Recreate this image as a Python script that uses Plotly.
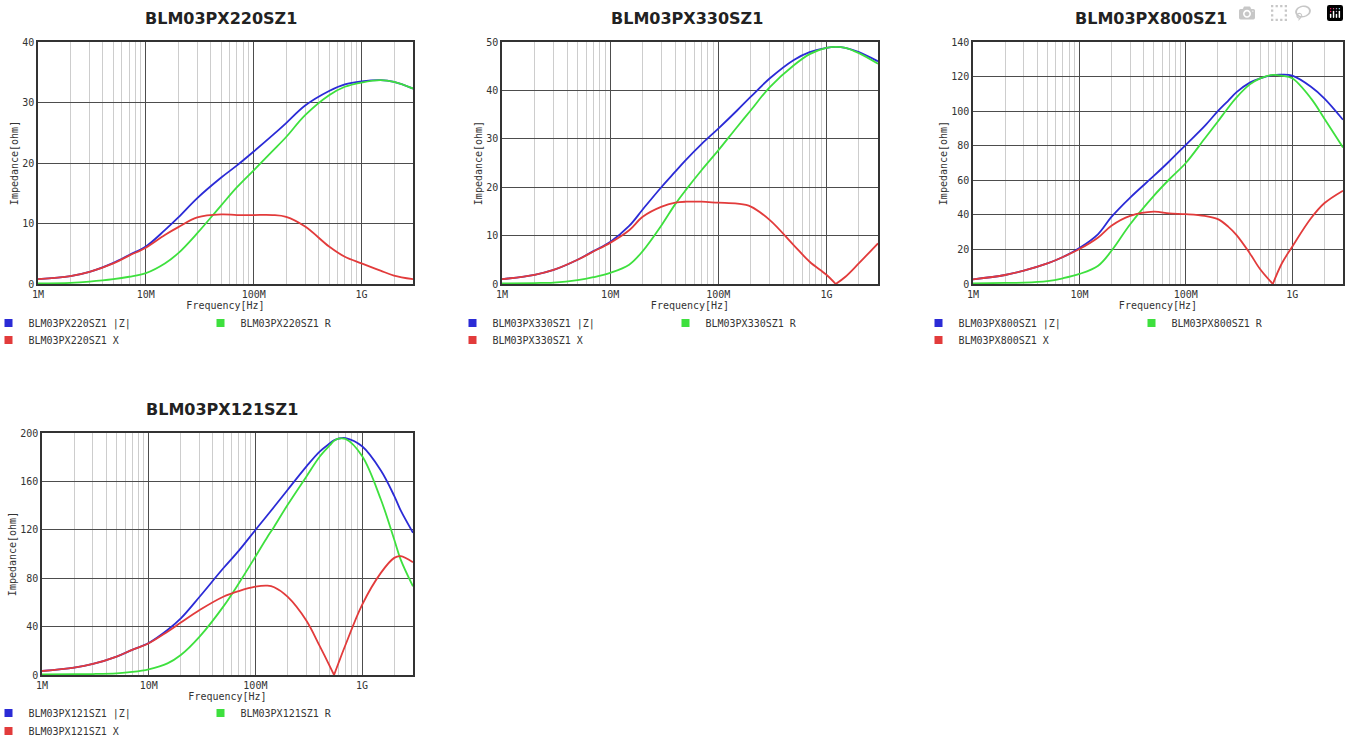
import numpy as np
import plotly.graph_objects as go

W, H = 1349, 737

# ---------------- data ----------------
part_names = ["BLM03PX220SZ1", "BLM03PX330SZ1", "BLM03PX800SZ1", "BLM03PX121SZ1"]

freq_220 = [1e6, 2e6, 3e6, 5e6, 7e6, 1e7, 1.5e7, 2e7, 3e7, 5e7, 7e7, 1e8, 1.5e8, 2e8, 3e8,
            5e8, 7e8, 1e9, 1.5e9, 2e9, 3e9]
z_220 = [0.8, 1.3, 2.0, 3.5, 4.8, 6.2, 8.9, 11.0, 14.2, 17.6, 19.6, 21.9, 24.6, 26.6, 29.5,
         31.9, 33.0, 33.5, 33.7, 33.4, 32.3]
r_220 = [0.1, 0.2, 0.4, 0.8, 1.2, 1.8, 3.4, 5.1, 8.4, 13.0, 16.0, 18.8, 22.0, 24.3, 27.9,
         31.2, 32.6, 33.3, 33.7, 33.4, 32.3]
x_220 = [0.8, 1.3, 2.0, 3.4, 4.7, 6.0, 8.1, 9.4, 11.0, 11.5, 11.4, 11.4, 11.4, 11.1, 9.5,
         6.2, 4.5, 3.4, 2.2, 1.4, 0.8]

freq_330 = [1e6, 2e6, 3e6, 5e6, 7e6, 1e7, 1.5e7, 2e7, 3e7, 4e7, 5e7, 7e7, 1e8, 1.5e8, 2e8,
            3e8, 5e8, 7e8, 1e9, 1.22e9, 1.5e9, 2e9, 3e9]
z_330 = [1.0, 1.9, 2.9, 5.0, 6.8, 8.7, 12.0, 15.4, 20.1, 23.2, 25.6, 28.9, 32.1, 35.9, 38.7,
         42.5, 46.3, 47.9, 48.8, 49.0, 48.8, 47.9, 46.0]
r_330 = [0.1, 0.2, 0.3, 0.8, 1.4, 2.3, 4.0, 6.8, 12.2, 16.5, 19.4, 23.5, 27.6, 32.5, 35.9,
         40.7, 45.2, 47.5, 48.8, 49.0, 48.8, 47.7, 45.5]
x_330 = [1.0, 1.9, 2.9, 5.0, 6.7, 8.5, 11.1, 13.9, 16.0, 16.8, 17.0, 17.0, 16.8, 16.6, 16.0,
         13.2, 8.0, 4.6, 1.9, 0.0, 1.5, 4.3, 8.4]

freq_800 = [1e6, 2e6, 3e6, 5e6, 7e6, 1e7, 1.5e7, 2e7, 3e7, 5e7, 7e7, 1e8, 1.5e8, 2e8, 2.5e8,
            3e8, 4e8, 5e8, 6.57e8, 8e8, 1e9, 1.5e9, 2e9, 3e9]
z_800 = [2.7, 5.2, 7.7, 11.9, 15.6, 20.8, 28.9, 38.8, 50.0, 62.5, 71.0, 80.5, 91.3, 100.0, 106.0,
         111.0, 116.5, 119.0, 120.9, 121.1, 120.5, 114.1, 107.4, 95.0]
r_800 = [0.4, 0.6, 0.8, 1.7, 3.3, 5.8, 10.6, 19.2, 34.6, 51.0, 60.6, 70.0, 84.0, 94.0, 102.0,
         108.0, 115.5, 119.0, 121.0, 120.5, 119.0, 107.4, 95.8, 79.0]
x_800 = [2.7, 5.2, 7.7, 11.9, 15.6, 20.2, 26.9, 33.7, 39.4, 41.9, 40.8, 40.4, 39.4, 37.5, 33.2,
         28.3, 17.7, 8.5, 0.0, 12.0, 21.6, 38.0, 46.7, 54.0]

freq_121 = [1e6, 2e6, 3e6, 5e6, 7e6, 1e7, 1.5e7, 2e7, 3e7, 5e7, 7e7, 1e8, 1.3e8, 1.5e8, 2e8,
            3e8, 4e8, 5e8, 5.46e8, 6e8, 7e8, 1e9, 1.5e9, 2e9, 2.3e9, 3e9]
z_121 = [3.3, 6.1, 9.1, 15.2, 20.8, 26.5, 37.2, 46.8, 64.7, 88.2, 102.8, 119.8, 132.2, 139.0, 152.9,
         172.2, 184.6, 191.5, 194.0, 195.4, 195.8, 189.0, 169.0, 148.0, 136.0, 117.6]
r_121 = [0.5, 0.6, 0.8, 1.4, 2.5, 4.7, 9.6, 16.5, 31.7, 56.5, 75.8, 97.8, 114.3, 122.6, 140.5,
         163.9, 180.4, 190.0, 193.5, 195.3, 195.0, 181.0, 145.0, 112.0, 95.4, 73.3]
x_121 = [3.3, 6.1, 9.1, 15.2, 20.7, 26.2, 35.8, 43.3, 53.7, 64.7, 69.4, 73.0, 73.8, 72.5, 64.7,
         45.0, 24.0, 7.0, 0.0, 9.7, 25.0, 58.0, 84.4, 96.8, 98.2, 93.2]

y_max = [40, 50, 140, 200]
y_step = [10, 10, 20, 40]

x_tick_vals = [1e6, 1e7, 1e8, 1e9]
x_tick_text = ["1M", "10M", "100M", "1G"]

freqs = [freq_220, freq_330, freq_800, freq_121]
zs = [z_220, z_330, z_800, z_121]
rs = [r_220, r_330, r_800, r_121]
xs = [x_220, x_330, x_800, x_121]

# ---------------- styling / layout ----------------
COL_Z = "#2b2bd6"
COL_R = "#3ee03e"
COL_X = "#e23b3b"
MONO = "DejaVu Sans Mono"
TXT = "#333333"

# plot boxes in pixels: left, right, top, bottom
boxes = [(38, 413, 42, 284), (502, 878, 42, 284), (973, 1343, 42, 284), (42, 413, 433, 675)]
title_pos = [(221, 18), (687, 18), (1151, 18), (222, 409)]
# legend squares: (x of |Z| and X square, x of R square, y of row 1, y of row 2)
legend_pos = [(16, 228, 323, 340), (480, 693, 323, 340), (946, 1159, 323, 340), (16, 228, 713, 731)]

minor_vals = [m * 10 ** e for e in range(6, 10) for m in range(2, 10) if m * 10 ** e <= 3e9]

fig = go.Figure()
layout = dict(
    width=W, height=H, margin=dict(l=0, r=0, t=0, b=0, autoexpand=False),
    paper_bgcolor="white", plot_bgcolor="white",
    showlegend=True, annotations=[],
)


def line_pieces(f, v):
    """Split a curve at an exact zero (|X| resonance) so the V stays sharp."""
    if 0.0 in v:
        k = v.index(0.0)
        return [(f[:k + 1], v[:k + 1]), (f[k:], v[k:])]
    return [(f, v)]


legend_idx = 0
for i in range(4):
    sfx = "" if i == 0 else str(i + 1)
    xa, ya = "x" + sfx, "y" + sfx
    L, R, T, B = boxes[i]
    layout["xaxis" + sfx] = dict(
        type="log", range=[6, np.log10(3e9)], domain=[L / W, R / W], anchor=ya,
        tickmode="array", tickvals=x_tick_vals, ticktext=x_tick_text,
        showgrid=True, gridcolor="#4d4d4d", gridwidth=1.2,
        minor=dict(tickmode="array", tickvals=minor_vals, showgrid=True,
                   gridcolor="#cdcdcd", gridwidth=1, ticks=""),
        showline=True, linecolor="#333333", linewidth=1.5, mirror=True,
        ticks="", zeroline=False, automargin=False, fixedrange=True,
        tickfont=dict(family=MONO, size=10, color=TXT),
        title=dict(text="Frequency[Hz]", font=dict(family=MONO, size=10, color=TXT), standoff=2),
    )
    layout["yaxis" + sfx] = dict(
        range=[0, y_max[i]], dtick=y_step[i], tick0=0, domain=[1 - B / H, 1 - T / H], anchor=xa,
        showgrid=True, gridcolor="#4d4d4d", gridwidth=1.2,
        showline=True, linecolor="#333333", linewidth=1.5, mirror=True,
        ticks="", zeroline=False, automargin=False, fixedrange=True,
        tickfont=dict(family=MONO, size=10, color=TXT),
        title=dict(text="Impedance[ohm]", font=dict(family=MONO, size=10, color=TXT), standoff=2),
    )

    # curves: |Z|, R, X (X drawn last, on top)
    for vals, col, sname in ((zs[i], COL_Z, "|Z|"), (rs[i], COL_R, "R"), (xs[i], COL_X, "X")):
        for fx, vy in line_pieces(freqs[i], vals):
            fig.add_trace(go.Scatter(
                x=fx, y=vy, mode="lines", xaxis=xa, yaxis=ya,
                line=dict(color=col, width=1.8, shape="spline", smoothing=1.0),
                name=f"{part_names[i]} {sname}", showlegend=False,
            ))

    # legend entries (square swatches), one small legend per entry
    sx1, sx2, ry1, ry2 = legend_pos[i]
    for col, sname, sqx, sqy in ((COL_Z, "|Z|", sx1, ry1), (COL_R, "R", sx2, ry1), (COL_X, "X", sx1, ry2)):
        legend_idx += 1
        lname = "legend" if legend_idx == 1 else f"legend{legend_idx}"
        fig.add_trace(go.Scatter(
            x=[None], y=[None], mode="markers", xaxis=xa, yaxis=ya,
            marker=dict(symbol="square", size=8, color=col),
            name=f"{part_names[i]} {sname}", legend=lname, showlegend=True,
        ))
        layout[lname] = dict(
            x=(sqx - 27.5) / W, y=1 - sqy / H, xanchor="left", yanchor="middle",
            bgcolor="rgba(0,0,0,0)", borderwidth=0, itemwidth=30,
            font=dict(family=MONO, size=10, color=TXT),
        )

    tx, ty = title_pos[i]
    layout["annotations"].append(dict(
        text=part_names[i], x=tx / W, y=1 - ty / H, xref="paper", yref="paper",
        xanchor="center", yanchor="middle", showarrow=False,
        font=dict(family="DejaVu Sans", size=16, color="#222222", weight="bold"),
    ))

fig.update_layout(**layout)
fig.write_html("out.html", post_script="document.body.style.margin='0';")
